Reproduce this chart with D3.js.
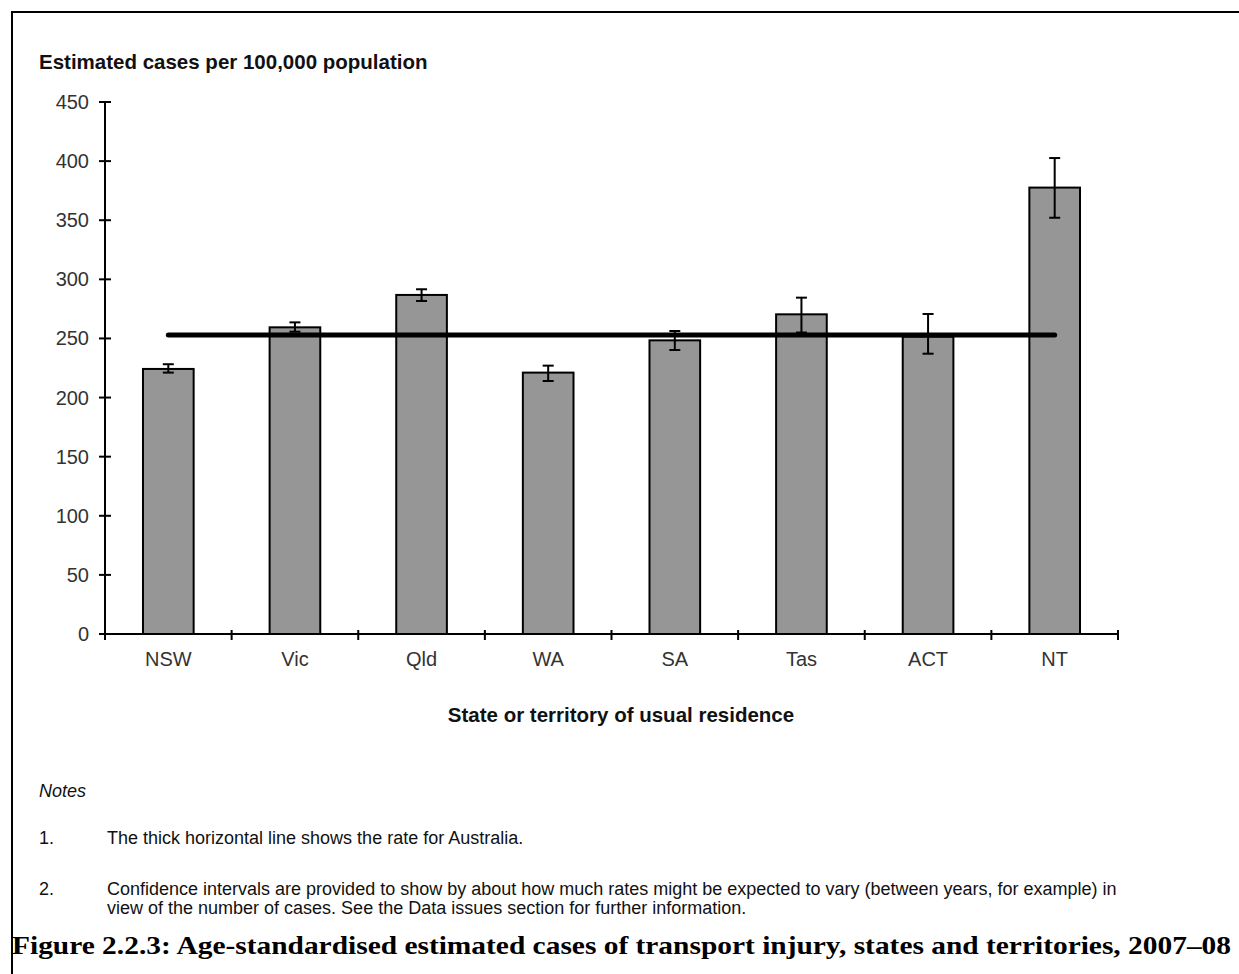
<!DOCTYPE html>
<html>
<head>
<meta charset="utf-8">
<script src="https://cdn.jsdelivr.net/npm/d3@7"></script>
<style>
  html, body { margin: 0; padding: 0; background: #fff; }
  svg { display: block; }
</style>
</head>
<body>
<svg id="chart" width="1239" height="974"></svg>
<script>
// Age-standardised estimated transport injury rates by state/territory, 2007–08
const states = ["NSW", "Vic", "Qld", "WA", "SA", "Tas", "ACT", "NT"];
const rates = [224.2, 259.4, 286.8, 221.1, 248.4, 270.4, 251.5, 377.6];
const ciLower = [221.1, 255.7, 281.7, 214.0, 240.2, 255.0, 237.1, 352.1];
const ciUpper = [228.2, 263.6, 291.6, 227.0, 256.3, 284.5, 270.7, 402.6];
const australiaRate = 253;
const yTicks = [0, 50, 100, 150, 200, 250, 300, 350, 400, 450];

const svg = d3.select("#chart");
const sans = "'Liberation Sans', Arial, sans-serif";

// Frame around the figure
svg.append("path")
  .attr("d", "M12,974 L12,12 L1239,12")
  .attr("fill", "none")
  .attr("stroke", "#000")
  .attr("stroke-width", 2);

const x = d3.scaleBand()
  .domain(states)
  .range([105, 1118])
  .paddingInner(0.6)
  .paddingOuter(0.3);

const y = d3.scaleLinear()
  .domain([0, 450])
  .range([634, 102]);

// Y axis
const yAxis = svg.append("g").attr("transform", "translate(105,0)");
yAxis.append("line")
  .attr("y1", y(0)).attr("y2", y(450))
  .attr("stroke", "#000").attr("stroke-width", 2);
yAxis.selectAll("line.tick")
  .data(yTicks)
  .join("line")
  .attr("class", "tick")
  .attr("x1", -6).attr("x2", 6)
  .attr("y1", d => y(d)).attr("y2", d => y(d))
  .attr("stroke", "#000").attr("stroke-width", 2);
yAxis.selectAll("text")
  .data(yTicks)
  .join("text")
  .attr("x", -16)
  .attr("y", d => y(d))
  .attr("dy", "0.35em")
  .attr("text-anchor", "end")
  .attr("font-family", sans)
  .attr("font-size", 20)
  .attr("fill", "#333")
  .text(d => d);

// X axis with category boundary ticks
const xAxis = svg.append("g").attr("transform", `translate(0,${y(0)})`);
xAxis.append("line")
  .attr("x1", 105).attr("x2", 1118)
  .attr("stroke", "#000").attr("stroke-width", 2);
const boundaries = states.map(s => x(s) - x.step() * x.paddingOuter()).concat([1118]);
xAxis.selectAll("line.tick")
  .data(boundaries)
  .join("line")
  .attr("class", "tick")
  .attr("x1", d => d).attr("x2", d => d)
  .attr("y1", -4).attr("y2", 6)
  .attr("stroke", "#000").attr("stroke-width", 2);
xAxis.selectAll("text")
  .data(states)
  .join("text")
  .attr("x", d => x(d) + x.bandwidth() / 2)
  .attr("y", 32)
  .attr("text-anchor", "middle")
  .attr("font-family", sans)
  .attr("font-size", 20)
  .attr("fill", "#333")
  .text(d => d);

// Bars
svg.append("g").selectAll("rect")
  .data(states)
  .join("rect")
  .attr("x", d => x(d))
  .attr("y", (d, i) => y(rates[i]))
  .attr("width", x.bandwidth())
  .attr("height", (d, i) => y(0) - y(rates[i]))
  .attr("fill", "#969696")
  .attr("stroke", "#000")
  .attr("stroke-width", 2);

// Australian rate line
svg.append("line")
  .attr("x1", x(states[0]) + x.bandwidth() / 2)
  .attr("x2", x(states[states.length - 1]) + x.bandwidth() / 2)
  .attr("y1", y(australiaRate)).attr("y2", y(australiaRate))
  .attr("stroke", "#000")
  .attr("stroke-width", 5)
  .attr("stroke-linecap", "round");

// Confidence intervals
const ci = svg.append("g").attr("stroke", "#000").attr("stroke-width", 2);
states.forEach((s, i) => {
  const cx = x(s) + x.bandwidth() / 2;
  ci.append("line").attr("x1", cx).attr("x2", cx)
    .attr("y1", y(ciLower[i])).attr("y2", y(ciUpper[i]));
  [ciLower[i], ciUpper[i]].forEach(v => {
    ci.append("line").attr("x1", cx - 5.5).attr("x2", cx + 5.5)
      .attr("y1", y(v)).attr("y2", y(v));
  });
});

// Axis titles
svg.append("text")
  .attr("x", 39).attr("y", 69)
  .attr("font-family", sans).attr("font-size", 20.5).attr("font-weight", "bold")
  .attr("fill", "#111")
  .text("Estimated cases per 100,000 population");
svg.append("text")
  .attr("x", 621).attr("y", 722)
  .attr("text-anchor", "middle")
  .attr("font-family", sans).attr("font-size", 20.5).attr("font-weight", "bold")
  .attr("fill", "#111")
  .text("State or territory of usual residence");

// Notes
const notes = svg.append("g")
  .attr("font-family", sans).attr("font-size", 18).attr("fill", "#111");
notes.append("text").attr("x", 39).attr("y", 797)
  .attr("font-style", "italic").text("Notes");
notes.append("text").attr("x", 39).attr("y", 844).text("1.");
notes.append("text").attr("x", 107).attr("y", 844)
  .text("The thick horizontal line shows the rate for Australia.");
notes.append("text").attr("x", 39).attr("y", 895).text("2.");
notes.append("text").attr("x", 107).attr("y", 895)
  .text("Confidence intervals are provided to show by about how much rates might be expected to vary (between years, for example) in");
notes.append("text").attr("x", 107).attr("y", 914)
  .text("view of the number of cases. See the Data issues section for further information.");

// Figure caption
svg.append("text")
  .attr("x", 12).attr("y", 954)
  .attr("font-family", "'Liberation Serif', 'DejaVu Serif', serif")
  .attr("font-size", 25).attr("font-weight", "bold")
  .attr("fill", "#000")
  .attr("textLength", 1219)
  .attr("lengthAdjust", "spacingAndGlyphs")
  .text("Figure 2.2.3: Age-standardised estimated cases of transport injury, states and territories, 2007–08");
</script>
</body>
</html>
